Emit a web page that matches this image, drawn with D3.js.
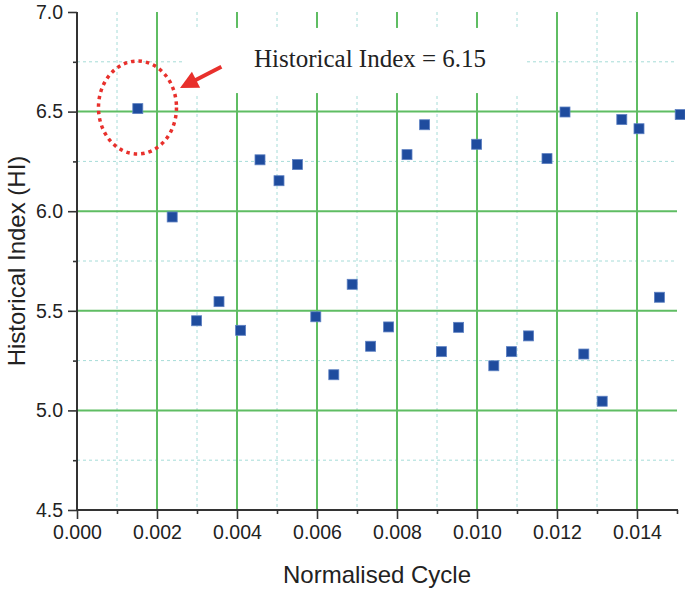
<!DOCTYPE html>
<html>
<head>
<meta charset="utf-8">
<script src="https://cdn.jsdelivr.net/npm/d3@7"></script>
<style>
  html, body { margin: 0; padding: 0; background: #fff; }
  svg { display: block; }
</style>
</head>
<body>
<svg id="chart" width="685" height="592"></svg>
<script>
// ---- data ----
const cycle = [0.00152, 0.00238, 0.00299, 0.00355, 0.00409, 0.004575, 0.00505, 0.00551, 0.00597, 0.00642,
               0.00688, 0.00734, 0.00779, 0.00825, 0.00869, 0.00911, 0.00954, 0.00999, 0.01042, 0.01086,
               0.01129, 0.01175, 0.0122, 0.01267, 0.01313, 0.01362, 0.01405, 0.01456, 0.01508];
const historicalIndex = [6.515, 5.971, 5.450, 5.546, 5.402, 6.258, 6.153, 6.234, 5.470, 5.179,
                         5.633, 5.322, 5.419, 6.284, 6.434, 5.295, 5.417, 6.336, 5.224, 5.295,
                         5.374, 6.264, 6.498, 5.283, 5.046, 6.460, 6.414, 5.568, 6.485];
const xMajorTicks = [0.000, 0.002, 0.004, 0.006, 0.008, 0.010, 0.012, 0.014];
const xMinorTicks = [0.001, 0.003, 0.005, 0.007, 0.009, 0.011, 0.013, 0.015];
const yMajorTicks = [4.5, 5.0, 5.5, 6.0, 6.5, 7.0];
const yMinorTicks = [4.75, 5.25, 5.75, 6.25, 6.75];
const annotationText = "Historical Index = 6.15";
const xTitle = "Normalised Cycle";
const yTitle = "Historical Index (HI)";

(function () {
// ---- layout ----
const svg = d3.select("#chart");
const pL = 77, pR = 677, pT = 12, pB = 510;
const x = d3.scaleLinear().domain([0, 0.015]).range([pL, pR]);
const y = d3.scaleLinear().domain([4.5, 7.0]).range([pB, pT]);

const green = "#5fbd63";
const dashCol = "#a6dcd8";
const axisCol = "#333";

const gGrid = svg.append("g");
// minor dashed grid
gGrid.selectAll(".vmin").data(xMinorTicks.filter(v => v < 0.015)).enter().append("line")
  .attr("x1", d => x(d)).attr("x2", d => x(d)).attr("y1", pT).attr("y2", pB)
  .attr("stroke", dashCol).attr("stroke-width", 1).attr("stroke-dasharray", "3,3");
gGrid.selectAll(".hmin").data(yMinorTicks).enter().append("line")
  .attr("x1", pL).attr("x2", pR).attr("y1", d => y(d)).attr("y2", d => y(d))
  .attr("stroke", dashCol).attr("stroke-width", 1).attr("stroke-dasharray", "3,3");
// major green grid
gGrid.selectAll(".vmaj").data(xMajorTicks.filter(v => v > 0)).enter().append("line")
  .attr("x1", d => x(d)).attr("x2", d => x(d)).attr("y1", pT).attr("y2", pB)
  .attr("stroke", green).attr("stroke-width", 2);
gGrid.selectAll(".hmaj").data(yMajorTicks.filter(v => v > 4.5 && v < 7.0)).enter().append("line")
  .attr("x1", pL).attr("x2", pR).attr("y1", d => y(d)).attr("y2", d => y(d))
  .attr("stroke", green).attr("stroke-width", 2);

// white box behind annotation text
svg.append("rect")
  .attr("x", x(0.00270)).attr("y", y(6.92))
  .attr("width", x(0.01123) - x(0.00270)).attr("height", y(6.593) - y(6.92))
  .attr("fill", "#fff");

// axes
const fontTick = "'Liberation Sans', Arial, sans-serif";
const yAxis = svg.append("g").attr("transform", `translate(${pL},0)`)
  .call(d3.axisLeft(y).tickValues(yMajorTicks).tickSize(9).tickPadding(5).tickFormat(d3.format(".1f")));
svg.append("g").attr("transform", `translate(${pL},0)`)
  .call(d3.axisLeft(y).tickValues(yMinorTicks).tickSize(4).tickFormat(""))
  .call(g => g.select(".domain").remove());
const xAxis = svg.append("g").attr("transform", `translate(0,${pB})`)
  .call(d3.axisBottom(x).tickValues(xMajorTicks).tickSize(9).tickPadding(6).tickFormat(d3.format(".3f")));
svg.append("g").attr("transform", `translate(0,${pB})`)
  .call(d3.axisBottom(x).tickValues(xMinorTicks).tickSize(4).tickFormat(""))
  .call(g => g.select(".domain").remove());

svg.selectAll(".domain").attr("stroke", axisCol).attr("stroke-width", 2);
svg.selectAll(".tick line").attr("stroke", axisCol).attr("stroke-width", 1.6);
svg.selectAll(".tick text").attr("fill", "#222").style("font-family", fontTick).style("font-size", "19.5px");
xAxis.selectAll(".domain").attr("d", `M${pL - 1},0H${pR + 1}`);
yAxis.selectAll(".domain").attr("d", `M0,${pT}V${pB + 1}`);

// axis titles
svg.append("text")
  .attr("x", (pL + pR) / 2).attr("y", 583)
  .attr("text-anchor", "middle")
  .style("font-family", fontTick).style("font-size", "24px").attr("fill", "#222")
  .text(xTitle);
svg.append("text")
  .attr("transform", `translate(25,${(pT + pB) / 2}) rotate(-90)`)
  .attr("text-anchor", "middle")
  .style("font-family", fontTick).style("font-size", "24px").attr("fill", "#222")
  .text(yTitle);

// points
const pts = cycle.map((c, i) => ({ c, h: historicalIndex[i] }));
const s = 10;
svg.append("g").selectAll("rect").data(pts).enter().append("rect")
  .attr("x", d => x(d.c) - s / 2).attr("y", d => y(d.h) - s / 2)
  .attr("width", s).attr("height", s)
  .attr("fill", "#1f4c9e").attr("stroke", "#5d80c2").attr("stroke-width", 0.8);

// dotted ellipse around first point
svg.append("ellipse")
  .attr("cx", x(0.001512)).attr("cy", y(6.5206))
  .attr("rx", x(0.000975) - x(0)).attr("ry", y(6.5206 - 0.2334) - y(6.5206))
  .attr("fill", "none").attr("stroke", "#e8302c").attr("stroke-width", 3.5)
  .attr("stroke-dasharray", "3.5,4");

// arrow
const tail = [x(0.00361), y(6.725)], tip = [x(0.002575), y(6.6185)];
const dx = tip[0] - tail[0], dy = tip[1] - tail[1];
const len = Math.hypot(dx, dy), ux = dx / len, uy = dy / len;
const headLen = 18, headW = 9;
const base = [tip[0] - ux * headLen, tip[1] - uy * headLen];
svg.append("line")
  .attr("x1", tail[0]).attr("y1", tail[1]).attr("x2", base[0] + ux * 2).attr("y2", base[1] + uy * 2)
  .attr("stroke", "#e8302c").attr("stroke-width", 4);
svg.append("path")
  .attr("d", `M${tip[0]},${tip[1]}L${base[0] - uy * headW},${base[1] + ux * headW}L${base[0] + uy * headW},${base[1] - ux * headW}Z`)
  .attr("fill", "#e8302c");

// annotation text
svg.append("text")
  .attr("x", x(0.004425)).attr("y", y(6.724))
  .style("font-family", "'Liberation Serif', 'Times New Roman', serif").style("font-size", "25px")
  .attr("fill", "#222")
  .text(annotationText);
})();
</script>
</body>
</html>
